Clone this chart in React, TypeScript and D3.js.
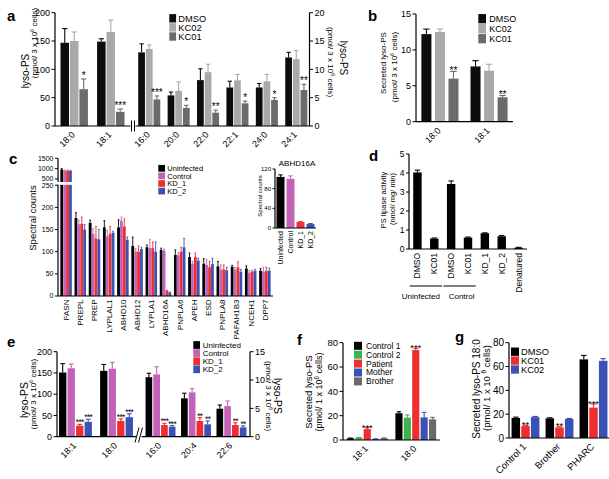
import React from 'react';
import * as d3 from 'd3';

const FONT = '"Liberation Sans", Arial, Helvetica, sans-serif';

// ---------- Panel a ----------
const aSeries = ['DMSO', 'KC02', 'KC01'];
const aColors = ['#0d0d0d', '#a9a9a9', '#6b6b6b'];
const aLeftCats = ['18:0', '18:1'];
const aLeftVals = [[147, 150, 65], [149, 166, 25]];
const aLeftErr = [[25, 16, 18], [5, 21, 5]];
const aLeftStars = [['', '', '*'], ['', '', '***']];
const aRightCats = ['16:0', '20:0', '22:0', '22:1', '24:0', '24:1'];
const aRightVals = [[13.0, 13.6, 4.7], [5.4, 6.2, 3.2], [8.1, 9.5, 2.35], [6.8, 8.05, 4.0], [6.8, 7.9, 4.6], [12.1, 11.8, 6.35]];
const aRightErr = [[1.5, 0.7, 0.6], [0.6, 1.6, 0.45], [2.0, 1.4, 0.45], [1.1, 1.05, 0.4], [0.7, 1.2, 0.4], [0.9, 1.5, 1.0]];
const aRightStars = [['', '', '***'], ['', '', '*'], ['', '', '**'], ['', '', '*'], ['', '', '*'], ['', '', '**']];
const aLeftTicks = [0, 50, 100, 150, 200];
const aRightTicks = [0, 5, 10, 15, 20];

// ---------- Panel b ----------
const bCats = ['18:0', '18:1'];
const bVals = [[12.2, 12.5, 6.0], [7.7, 7.1, 3.4]];
const bErr = [[0.7, 0.4, 1.0], [0.8, 0.9, 0.25]];
const bStars = [['', '', '**'], ['', '', '**']];
const bTicks = [0, 5, 10, 15];

// ---------- Panel c ----------
const cSeries = ['Uninfected', 'Control', 'KD_1', 'KD_2'];
const cColors = ['#000000', '#c262b9', '#ee2f2f', '#3b52b5'];
const cGenes = ['FASN', 'PREPL', 'PREP', 'LYPLAL1', 'ABHD10', 'ABHD12', 'LYPLA1', 'ABHD16A', 'PNPLA6', 'APEH', 'ESD', 'PNPLA8', 'PAFAH1B3', 'NCEH1', 'DPP7'];
const cVals = [
  [960, 900, 900, 885],
  [176, 162, 163, 150],
  [165, 140, 130, 128],
  [155, 135, 140, 143],
  [155, 170, 157, 127],
  [113, 100, 100, 106],
  [110, 108, 108, 100],
  [104, 102, 12, 8],
  [93, 92, 100, 110],
  [88, 73, 88, 80],
  [73, 70, 65, 72],
  [67, 60, 60, 58],
  [66, 60, 65, 55],
  [62, 53, 55, 57],
  [57, 55, 57, 57],
];
const cErr = [
  [40, 30, 30, 35],
  [12, 9, 15, 11],
  [6, 12, 27, 22],
  [15, 13, 17, 3],
  [17, 8, 17, 6],
  [20, 7, 13, 4],
  [5, 20, 14, 22],
  [4, 4, 1, 1],
  [11, 6, 10, 20],
  [9, 5, 9, 5],
  [11, 13, 13, 13],
  [11, 10, 10, 7],
  [3, 5, 12, 5],
  [6, 4, 3, 3],
  [5, 10, 8, 6],
];
const cLowTicks = [0, 50, 100, 150, 200, 250];
const cHighTicks = [500, 1000, 1500];
const cInsetVals = [104, 100, 12, 8];
const cInsetErr = [4, 6, 1, 1];
const cInsetTicks = [0, 40, 80, 120];

// ---------- Panel d ----------
const dLabels = ['DMSO', 'KC01', 'DMSO', 'KC01', 'KD_1', 'KD_2', 'Denatured'];
const dVals = [4.03, 0.55, 3.42, 0.6, 0.83, 0.67, 0.07];
const dErr = [0.12, 0.03, 0.16, 0.03, 0.02, 0.04, 0.02];
const dTicks = [0, 1, 2, 3, 4, 5];
const dGroupNames = ['Uninfected', 'Control'];
const dGroupSpans = [[0, 1], [2, 3]];

// ---------- Panel e ----------
const eLeftCats = ['18:1', '18:0'];
const eLeftVals = [[151, 161, 26, 35], [155, 160, 37, 46]];
const eLeftErr = [[21, 10, 3, 6], [15, 15, 5, 8]];
const eLeftStars = [['', '', '***', '***'], ['', '', '***', '***']];
const eRightCats = ['16:0', '20:4', '22:6'];
const eRightVals = [[10.5, 11.0, 2.06, 1.76], [6.77, 7.83, 2.77, 2.18], [4.94, 5.4, 2.06, 1.65]];
const eRightErr = [[0.7, 1.35, 0.3, 0.2], [0.9, 0.65, 0.6, 0.6], [0.65, 0.9, 0.4, 0.25]];
const eRightStars = [['', '', '***', '***'], ['', '', '**', '**'], ['', '', '**', '**']];
const eLeftTicks = [0, 50, 100, 150, 200];
const eRightTicks = [0, 5, 10, 15];

// ---------- Panel f ----------
const fSeries = ['Control 1', 'Control 2', 'Patient', 'Mother', 'Brother'];
const fColors = ['#000000', '#3cb44a', '#ee2f2f', '#3b52b5', '#6a6a6a'];
const fCats = ['18:1', '18:0'];
const fVals = [[1.4, 1.9, 9.0, 0.8, 1.5], [22, 18.4, 74, 18.6, 17]];
const fErr = [[0.2, 0.2, 1.1, 0.2, 0.2], [1.2, 2.2, 1.3, 4.1, 1.6]];
const fStars = [['', '', '***', '', ''], ['', '', '***', '', '']];
const fTicks = [0, 20, 40, 60, 80];

// ---------- Panel g ----------
const gSeries = ['DMSO', 'KC01', 'KC02'];
const gColors = ['#000000', '#ee2f2f', '#3b52b5'];
const gCats = ['Control 1', 'Brother', 'PHARC'];
const gVals = [[16.8, 10, 17.5], [16.5, 8.9, 16.0], [66, 25.5, 64.8]];
const gErr = [[0.7, 0.6, 0.6], [0.5, 0.6, 0.4], [3.3, 3.0, 1.8]];
const gStars = [['', '**', ''], ['', '**', ''], ['', '***', '']];
const gTicks = [0, 20, 40, 60, 80];

type YFn = (v: number) => number;

function groupScales(cats: string[], n: number, x0: number, x1: number, pi: number, po: number, bp: number) {
  const xg = d3.scaleBand<string>().domain(cats).range([x0, x1]).paddingInner(pi).paddingOuter(po);
  const xs = d3.scaleBand<number>().domain(d3.range(n)).range([0, xg.bandwidth()]).paddingInner(bp).paddingOuter(0);
  return { xg, xs };
}

function Bars(p: {
  cats: string[]; vals: number[][]; errs: number[][]; stars?: string[][]; colors: string[];
  x0: number; x1: number; y: YFn; base: number; pi: number; po: number; bp: number;
  starFs?: number; starOff?: number; sw?: number; starLs?: number;
}) {
  const { xg, xs } = groupScales(p.cats, p.colors.length, p.x0, p.x1, p.pi, p.po, p.bp);
  const bw = xs.bandwidth();
  const sw = p.sw ?? 1.1;
  return (
    <g>
      {p.cats.map((c, i) =>
        p.vals[i].map((v, j) => {
          const x = (xg(c) as number) + (xs(j) as number);
          const cx = x + bw / 2;
          const top = p.y(v);
          const et = p.y(v + p.errs[i][j]);
          const s = p.stars ? p.stars[i][j] : '';
          return (
            <g key={`${i}-${j}`}>
              <line x1={cx} x2={cx} y1={top} y2={et} stroke={p.colors[j]} strokeWidth={sw} />
              <line x1={cx - bw * 0.32} x2={cx + bw * 0.32} y1={et} y2={et} stroke={p.colors[j]} strokeWidth={sw} />
              <rect x={x} y={top} width={bw} height={p.base - top} fill={p.colors[j]} />
              {s ? (
                <text x={cx} y={et + (p.starOff ?? 1)} textAnchor="middle" fontSize={p.starFs ?? 10} fill="#000"
                  letterSpacing={p.starLs ?? 0}>{s}</text>
              ) : null}
            </g>
          );
        })
      )}
    </g>
  );
}

function CatLabels(p: { cats: string[]; x0: number; x1: number; pi: number; po: number; y: number; fs: number; rot: number; dx?: number }) {
  const xg = d3.scaleBand<string>().domain(p.cats).range([p.x0, p.x1]).paddingInner(p.pi).paddingOuter(p.po);
  return (
    <g>
      {p.cats.map((c) => {
        const cx = (xg(c) as number) + xg.bandwidth() / 2 + (p.dx ?? 0);
        return (
          <text key={c} transform={`translate(${cx},${p.y}) rotate(${p.rot})`} textAnchor="end" dy="0.35em" fontSize={p.fs} fill="#000">{c}</text>
        );
      })}
    </g>
  );
}

function YAxis(p: { x: number; y: YFn; ticks: number[]; side?: 'left' | 'right'; fs: number; tl?: number; from?: number; to?: number }) {
  const dir = p.side === 'right' ? 1 : -1;
  const tl = p.tl ?? 3.5;
  const y0 = p.from ?? p.y(p.ticks[0]);
  const y1 = p.to ?? p.y(p.ticks[p.ticks.length - 1]);
  return (
    <g>
      <line x1={p.x} x2={p.x} y1={y0} y2={y1} stroke="#000" strokeWidth={1.2} />
      {p.ticks.map((t) => (
        <g key={t}>
          <line x1={p.x} x2={p.x + dir * tl} y1={p.y(t)} y2={p.y(t)} stroke="#000" strokeWidth={1} />
          <text x={p.x + dir * (tl + 1.5)} y={p.y(t)} dy="0.35em" textAnchor={dir < 0 ? 'end' : 'start'} fontSize={p.fs} fill="#000">{t}</text>
        </g>
      ))}
    </g>
  );
}

function HLine(p: { x0: number; x1: number; y: number; w?: number }) {
  return <line x1={p.x0} x2={p.x1} y1={p.y} y2={p.y} stroke="#000" strokeWidth={p.w ?? 1.2} />;
}

function Legend(p: { x: number; y: number; names: string[]; colors: string[]; step: number; fs: number; w: number; h: number; tx: number }) {
  return (
    <g>
      {p.names.map((n, i) => (
        <g key={n}>
          <rect x={p.x} y={p.y + i * p.step - p.h / 2} width={p.w} height={p.h} fill={p.colors[i]} />
          <text x={p.tx} y={p.y + i * p.step} dy="0.35em" fontSize={p.fs} fill="#000">{n}</text>
        </g>
      ))}
    </g>
  );
}

function VText(p: { x: number; y: number; rot: number; fs: number; children: React.ReactNode; weight?: string }) {
  return (
    <text transform={`translate(${p.x},${p.y}) rotate(${p.rot})`} textAnchor="middle" dy="0.35em" fontSize={p.fs} fontWeight={p.weight} fill="#000">
      {p.children}
    </text>
  );
}

function Unit(pre: string, exp: string, post: string, fs: number) {
  return (
    <>
      {pre}
      <tspan fontSize={fs * 0.7} dy={-fs * 0.38}>{exp}</tspan>
      <tspan dy={fs * 0.38}>{post}</tspan>
    </>
  );
}

function Letter(p: { x: number; y: number; t: string }) {
  return <text x={p.x} y={p.y} fontSize={15} fontWeight="bold" fill="#000">{p.t}</text>;
}

export default function App() {
  // panel a
  const aY = d3.scaleLinear().domain([0, 200]).range([126, 12.7]);
  const aYR = d3.scaleLinear().domain([0, 20]).range([126, 12.7]);
  // panel b
  const bY = d3.scaleLinear().domain([0, 15]).range([121.7, 14]);
  // panel c
  const cLow = d3.scaleLinear().domain([0, 250]).range([296, 185.2]);
  const cHigh = d3.scaleLinear().domain([500, 1500]).range([178.9, 158.3]);
  const cY: YFn = (v) => (v > 250 ? cHigh(v) : cLow(v));
  const ciY = d3.scaleLinear().domain([0, 120]).range([228, 169]);
  const ciX = d3.scaleBand<string>().domain(cSeries).range([275, 316]).paddingInner(0.2).paddingOuter(0.15);
  // panel d
  const dY = d3.scaleLinear().domain([0, 5]).range([249, 154]);
  const dX = d3.scaleBand<number>().domain(d3.range(dLabels.length)).range([409, 527]).paddingInner(0.5).paddingOuter(0.25);
  const dLabelShift = [-5, 2];
  // panel e
  const eY = d3.scaleLinear().domain([0, 200]).range([436.7, 351.7]);
  const eYR = d3.scaleLinear().domain([0, 15]).range([436.7, 351.7]);
  // panel f
  const fY = d3.scaleLinear().domain([0, 80]).range([440, 342.7]);
  // panel g
  const gY = d3.scaleLinear().domain([0, 80]).range([438, 342.7]);

  return (
    <svg width={609} height={479} style={{ position: 'absolute', left: 0, top: 0, background: '#fff' }} fontFamily={FONT}>
      <rect x={0} y={0} width={609} height={479} fill="#fff" />

      {/* ===== Panel a ===== */}
      <Letter x={7} y={21} t="a" />
      <Bars cats={aLeftCats} vals={aLeftVals} errs={aLeftErr} stars={aLeftStars} colors={aColors}
        x0={55} x1={130} y={aY} base={126} pi={0.25} po={0.15} bp={0.1} starOff={0} />
      <Bars cats={aRightCats} vals={aRightVals} errs={aRightErr} stars={aRightStars} colors={aColors}
        x0={136} x1={309.5} y={aYR} base={126} pi={0.25} po={0.075} bp={0.12} starOff={0} />
      <YAxis x={55} y={aY} ticks={aLeftTicks} fs={9} />
      <YAxis x={309.5} y={aYR} ticks={aRightTicks} side="right" fs={9} />
      <HLine x0={55} x1={130.5} y={126} />
      <HLine x0={135.5} x1={309.5} y={126} />
      <line x1={131.5} x2={131.5} y1={120.5} y2={131.5} stroke="#000" strokeWidth={1} />
      <line x1={134.5} x2={134.5} y1={120.5} y2={131.5} stroke="#000" strokeWidth={1} />
      <CatLabels cats={aLeftCats} x0={55} x1={130} pi={0.25} po={0.15} y={133} fs={9} rot={-45} dx={-1} />
      <CatLabels cats={aRightCats} x0={136} x1={309.5} pi={0.25} po={0.075} y={133} fs={9} rot={-45} dx={-1} />
      <VText x={25} y={71} rot={-90} fs={10}>lyso-PS</VText>
      <VText x={34.5} y={43} rot={-90} fs={8}>{Unit('(pmol/ 3 x 10', '6', ' cells)', 8)}</VText>
      <VText x={331} y={62} rot={90} fs={8}>{Unit('(pmol/ 3 x 10', '6', ' cells)', 8)}</VText>
      <VText x={343} y={58} rot={90} fs={10}>lyso-PS</VText>
      <Legend x={169.3} y={18.3} names={aSeries} colors={aColors} step={9.1} fs={9.3} w={6.8} h={8.4} tx={178.3} />

      {/* ===== Panel b ===== */}
      <Letter x={368} y={21} t="b" />
      <Bars cats={bCats} vals={bVals} errs={bErr} stars={bStars} colors={aColors}
        x0={416} x1={513} y={bY} base={121.7} pi={0.245} po={0.11} bp={0.26} starOff={3} />
      <YAxis x={416} y={bY} ticks={bTicks} fs={9} />
      <HLine x0={416} x1={513} y={121.7} />
      <CatLabels cats={bCats} x0={416} x1={513} pi={0.245} po={0.11} y={129} fs={9} rot={-45} dx={-1} />
      <VText x={383.5} y={63} rot={-90} fs={8}>Secreted lyso-PS</VText>
      <VText x={394} y={67} rot={-90} fs={8}>{Unit('(pmol/ 3 x 10', '6', ' cells)', 8)}</VText>
      <Legend x={478.3} y={18.7} names={aSeries} colors={aColors} step={10} fs={9} w={7.7} h={9.3} tx={489.3} />

      {/* ===== Panel c ===== */}
      <Letter x={9} y={164} t="c" />
      <Bars cats={cGenes} vals={cVals} errs={cErr} colors={cColors}
        x0={58} x1={273} y={cY} base={296} pi={0.19} po={0.165} bp={0.04} sw={0.9} />
      <rect x={55} y={182} width={18} height={2.8} fill="#fff" />
      <YAxis x={58} y={cLow} ticks={cLowTicks} fs={7} tl={3} from={296} to={184.8} />
      <YAxis x={58} y={cHigh} ticks={cHighTicks} fs={7} tl={3} from={182} to={158.3} />
      <HLine x0={58} x1={273} y={296} />
      <CatLabels cats={cGenes} x0={58} x1={273} pi={0.19} po={0.165} y={299.5} fs={8} rot={-90} />
      <VText x={33} y={218} rot={-90} fs={9.5}>Spectral counts</VText>
      <Legend x={158.3} y={168.3} names={cSeries} colors={cColors} step={7.6} fs={7.5} w={6.7} h={6.7} tx={167.3} />
      {/* inset */}
      <text x={297} y={163} dy="0.35em" textAnchor="middle" fontSize={8} fill="#000">ABHD16A</text>
      {cSeries.map((s, i) => {
        const x = ciX(s) as number;
        const bw = ciX.bandwidth();
        const cx = x + bw / 2;
        const top = ciY(cInsetVals[i]);
        const et = ciY(cInsetVals[i] + cInsetErr[i]);
        return (
          <g key={s}>
            <line x1={cx} x2={cx} y1={top} y2={et} stroke={cColors[i]} strokeWidth={1} />
            <line x1={cx - bw * 0.3} x2={cx + bw * 0.3} y1={et} y2={et} stroke={cColors[i]} strokeWidth={1} />
            <rect x={x} y={top} width={bw} height={228 - top} fill={cColors[i]} />
            <text transform={`translate(${cx},231) rotate(-90)`} textAnchor="end" dy="0.35em" fontSize={7} fill="#000">{s}</text>
          </g>
        );
      })}
      <YAxis x={275} y={ciY} ticks={cInsetTicks} fs={6} tl={2.5} />
      <HLine x0={275} x1={316} y={228} w={1} />
      <VText x={260} y={196} rot={-90} fs={6}>Spectral counts</VText>

      {/* ===== Panel d ===== */}
      <Letter x={369} y={161} t="d" />
      {dLabels.map((l, i) => {
        const x = dX(i) as number;
        const bw = dX.bandwidth();
        const cx = x + bw / 2;
        const top = dY(dVals[i]);
        const et = dY(dVals[i] + dErr[i]);
        return (
          <g key={i}>
            <line x1={cx} x2={cx} y1={top} y2={et} stroke="#000" strokeWidth={1.1} />
            <line x1={cx - bw * 0.32} x2={cx + bw * 0.32} y1={et} y2={et} stroke="#000" strokeWidth={1.1} />
            <rect x={x} y={top} width={bw} height={249 - top} fill="#000" />
            <text transform={`translate(${cx},253) rotate(-90)`} textAnchor="end" dy="0.35em" fontSize={8.5} fill="#000">{l}</text>
          </g>
        );
      })}
      <YAxis x={409} y={dY} ticks={dTicks} fs={8.5} tl={3} />
      <HLine x0={409} x1={527} y={249} />
      {dGroupNames.map((g, k) => {
        const a = dX(dGroupSpans[k][0]) as number;
        const b = (dX(dGroupSpans[k][1]) as number) + dX.bandwidth();
        return (
          <g key={g}>
            <line x1={a - 3.5} x2={b + 3.5} y1={286} y2={286} stroke="#000" strokeWidth={1.1} />
            <text x={(a + b) / 2 + dLabelShift[k]} y={296} dy="0.35em" textAnchor="middle" fontSize={8} fill="#000">{g}</text>
          </g>
        );
      })}
      <VText x={383} y={200} rot={-90} fs={7.5}>PS lipase activity</VText>
      <VText x={392} y={199} rot={-90} fs={7.5}>(nmol/ mg/ min)</VText>

      {/* ===== Panel e ===== */}
      <Letter x={7} y={347} t="e" />
      <Bars cats={eLeftCats} vals={eLeftVals} errs={eLeftErr} stars={eLeftStars} colors={cColors}
        x0={57} x1={135} y={eY} base={436.7} pi={0.2} po={0.05} bp={0.14} starOff={1} starFs={8.3} starLs={-0.6} />
      <Bars cats={eRightCats} vals={eRightVals} errs={eRightErr} stars={eRightStars} colors={cColors}
        x0={142} x1={250} y={eYR} base={436.7} pi={0.155} po={0.1} bp={0.14} starOff={1} starFs={8.3} starLs={-0.6} />
      <YAxis x={57} y={eY} ticks={eLeftTicks} fs={9} />
      <YAxis x={250} y={eYR} ticks={eRightTicks} side="right" fs={9} />
      <HLine x0={57} x1={136} y={436.7} />
      <HLine x0={141.5} x1={250} y={436.7} />
      <line x1={135} x2={139} y1={442.5} y2={427.5} stroke="#000" strokeWidth={1} />
      <line x1={138.5} x2={142.5} y1={442.5} y2={427.5} stroke="#000" strokeWidth={1} />
      <CatLabels cats={eLeftCats} x0={57} x1={135} pi={0.2} po={0.05} y={444} fs={9} rot={-45} dx={-1} />
      <CatLabels cats={eRightCats} x0={142} x1={250} pi={0.155} po={0.1} y={444} fs={9} rot={-45} dx={-1} />
      <VText x={24.5} y={400} rot={-90} fs={10.5}>lyso-PS</VText>
      <VText x={33} y={394} rot={-90} fs={8}>{Unit('(pmol/ 3 x 10', '6', ' cells)', 8)}</VText>
      <VText x={268.5} y={396} rot={90} fs={8}>{Unit('(pmol/ 3 x 10', '6', ' cells)', 8)}</VText>
      <VText x={278} y={396} rot={90} fs={10.5}>lyso-PS</VText>
      <Legend x={193.3} y={345} names={cSeries} colors={cColors} step={8.1} fs={8} w={6.7} h={7.7} tx={202.7} />

      {/* ===== Panel f ===== */}
      <Letter x={297} y={345} t="f" />
      <Bars cats={fCats} vals={fVals} errs={fErr} stars={fStars} colors={fColors}
        x0={343} x1={440} y={fY} base={440} pi={0.16} po={0.08} bp={0.15} starOff={3} starFs={9.5} />
      <YAxis x={343} y={fY} ticks={fTicks} fs={9.5} />
      <HLine x0={343} x1={440} y={440} />
      <CatLabels cats={fCats} x0={343} x1={440} pi={0.16} po={0.08} y={447} fs={9} rot={-45} dx={-1} />
      <VText x={309} y={392} rot={-90} fs={9.5}>Secreted lyso-PS</VText>
      <VText x={319} y={392} rot={-90} fs={9}>{Unit('(pmol/ 1 x 10', '6', ' cells)', 9)}</VText>
      <Legend x={354} y={345.8} names={fSeries} colors={fColors} step={8.9} fs={8.5} w={8} h={8} tx={366} />

      {/* ===== Panel g ===== */}
      <Letter x={455} y={342} t="g" />
      <Bars cats={gCats} vals={gVals} errs={gErr} stars={gStars} colors={gColors}
        x0={509} x1={610} y={gY} base={438} pi={0.18} po={0.075} bp={0.12} starOff={2.5} starFs={9.5} />
      <YAxis x={509} y={gY} ticks={gTicks} fs={10} />
      <HLine x0={509} x1={609} y={438} />
      <CatLabels cats={gCats} x0={509} x1={610} pi={0.18} po={0.075} y={445} fs={9.5} rot={-45} dx={-1} />
      <VText x={476} y={389} rot={-90} fs={10}>Secreted lyso-PS 18:0</VText>
      <VText x={486.5} y={388} rot={-90} fs={9.5}>{Unit('(pmol/ 1 x 10 ', '6', ' cells)', 9.5)}</VText>
      <Legend x={511} y={351.7} names={gSeries} colors={gColors} step={8.9} fs={9.3} w={8} h={8.3} tx={521} />
    </svg>
  );
}
